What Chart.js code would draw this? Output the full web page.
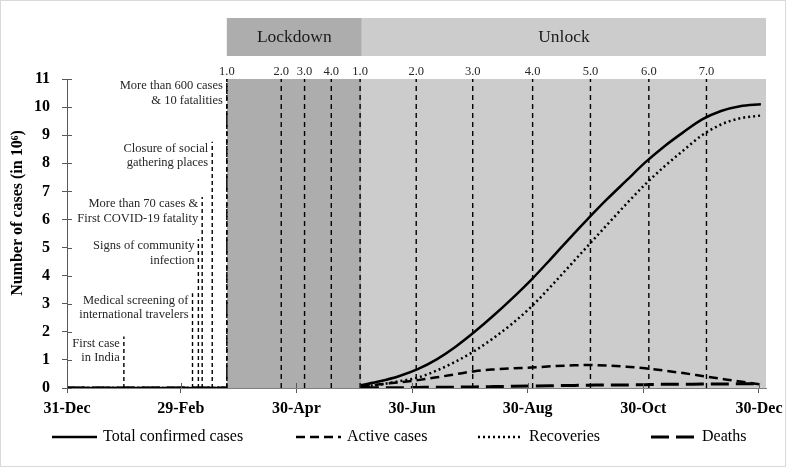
<!DOCTYPE html>
<html>
<head>
<meta charset="utf-8">
<script src="https://cdn.jsdelivr.net/npm/chart.js@4.4.1/dist/chart.umd.min.js"></script>
<style>
  body { margin: 0; background: #fff; }
  canvas { display: block; }
</style>
</head>
<body>
<canvas id="covidChart" width="786" height="467"></canvas>
<script>
// ....... data (x = days since 31-Dec, y = cases in millions) .......

const tickDays = [0, 60, 121, 182, 243, 304, 365];
const tickLabels = ["31-Dec", "29-Feb", "30-Apr", "30-Jun", "30-Aug", "30-Oct", "30-Dec"];

const days =         [0, 30, 60, 84, 120,  155,  165,  175,  185,  195,  205,  215,  225,  235,  245,  255,  265,  275,  285,  295,  305,  315,  325,  335,  345,  355,   366];
const totalCases =   [0,  0,  0,  0, null, 0.10, 0.24, 0.42, 0.67, 1.02, 1.47, 2.00, 2.58, 3.20, 3.86, 4.58, 5.32, 6.04, 6.73, 7.38, 8.03, 8.60, 9.10, 9.56, 9.86, 10.03, 10.10];
const activeCases =  [0,  0,  0,  0, null, 0.05, 0.13, 0.20, 0.28, 0.38, 0.49, 0.60, 0.66, 0.70, 0.73, 0.77, 0.80, 0.82, 0.80, 0.76, 0.70, 0.62, 0.53, 0.43, 0.33, 0.23,  0.13];
const recoveries =   [0,  0,  0,  0, null, 0.04, 0.12, 0.24, 0.37, 0.62, 0.94, 1.32, 1.78, 2.30, 2.90, 3.60, 4.34, 5.08, 5.82, 6.55, 7.25, 7.88, 8.45, 9.00, 9.38, 9.60,  9.70];
const deaths =       [0,  0,  0,  0, null, 0.01, 0.01, 0.01, 0.02, 0.03, 0.03, 0.04, 0.05, 0.06, 0.07, 0.08, 0.09, 0.10, 0.11, 0.11, 0.12, 0.13, 0.13, 0.14, 0.14, 0.15,  0.15];

// lockdown / unlock phases
const phaseNames = ["Lockdown", "Unlock"];
const phaseBounds = [84.3, 155.5, 368.7];
const lockdownDays = [84.3, 113, 125.3, 139.4];
const lockdownLabels = ["1.0", "2.0", "3.0", "4.0"];
const unlockDays = [154.6, 184.2, 214, 245.6, 276.1, 306.9, 337.3];
const unlockLabels = ["1.0", "2.0", "3.0", "4.0", "5.0", "6.0", "7.0"];

// early events
const eventDays = [30, 66.2, 69.3, 71.3, 76.6, 84.3];
const eventTops = [1.83, 3.37, 5.3, 6.8, 8.77, 11];
const eventLabels = [
  ["First case", "in India"],
  ["Medical screening of", "international travelers"],
  ["Signs of community", "infection"],
  ["More than 70 cases &", "First COVID-19 fatality"],
  ["Closure of social", "gathering places"],
  ["More than 600 cases", "& 10 fatalities"]
];

const seriesNames = ["Total confirmed cases", "Active cases", "Recoveries", "Deaths"];

// ....... helpers .......

const serif = "'Liberation Serif', 'Times New Roman', serif";

function toPoints(values) {
  return days.map((d, i) => ({ x: d, y: values[i] }));
}

// vertical segments from 0 up to a top value, separated by gaps
function verticalSegments(xs, tops) {
  const pts = [];
  xs.forEach((x, i) => {
    pts.push({ x: x, y: 0 });
    pts.push({ x: x, y: tops[i] });
    pts.push({ x: x, y: null });
  });
  return pts;
}

const phaseLineDays = lockdownDays.concat(unlockDays);
const seriesStyles = [
  { data: totalCases, dash: [], width: 2.5 },
  { data: activeCases, dash: [9, 5], width: 2.5 },
  { data: recoveries, dash: [2, 3], width: 2.5 },
  { data: deaths, dash: [18, 7], width: 3 }
];

const seriesDatasets = seriesStyles.map((s, i) => ({
  label: seriesNames[i],
  data: toPoints(s.data),
  borderColor: "#000",
  borderWidth: s.width,
  borderDash: s.dash,
  cubicInterpolationMode: "monotone",
  spanGaps: false,
  fill: false,
  order: 0
}));

// ....... extra drawing: banner, phase labels, notes, legend .......

const decorPlugin = {
  id: "decor",
  beforeDraw(chart) {
    const ctx = chart.ctx;
    ctx.save();
    ctx.fillStyle = "#fff";
    ctx.fillRect(0, 0, chart.width, chart.height);
    ctx.restore();
  },
  afterDraw(chart) {
    const ctx = chart.ctx;
    const xs = chart.scales.x;
    const ys = chart.scales.y;
    const area = chart.chartArea;
    ctx.save();

    // banner above plot
    const bannerColors = ["#adadad", "#cccccc"];
    for (let i = 0; i < phaseNames.length; i++) {
      const x0 = xs.getPixelForValue(phaseBounds[i]);
      const x1 = xs.getPixelForValue(phaseBounds[i + 1]);
      ctx.fillStyle = bannerColors[i];
      ctx.fillRect(x0, 18, x1 - x0, 38);
      ctx.fillStyle = "#1a1a1a";
      ctx.font = "17.5px " + serif;
      ctx.textAlign = "center";
      ctx.textBaseline = "middle";
      ctx.fillText(phaseNames[i], (x0 + x1) / 2, 37);
    }

    // phase numbers
    ctx.font = "12.5px " + serif;
    ctx.fillStyle = "#262626";
    ctx.textAlign = "center";
    ctx.textBaseline = "middle";
    lockdownDays.forEach((d, i) => ctx.fillText(lockdownLabels[i], xs.getPixelForValue(d), 72));
    unlockDays.forEach((d, i) => ctx.fillText(unlockLabels[i], xs.getPixelForValue(d), 72));

    // event notes
    ctx.textAlign = "right";
    eventDays.forEach((d, i) => {
      const px = xs.getPixelForValue(d) - 4;
      const py = ys.getPixelForValue(eventTops[i]) + 7;
      eventLabels[i].forEach((line, j) => ctx.fillText(line, px, py + j * 14.5));
    });

    // inner tick marks
    ctx.strokeStyle = "#595959";
    ctx.lineWidth = 1;
    ctx.beginPath();
    ys.ticks.forEach(t => {
      const py = Math.round(ys.getPixelForValue(t.value)) + 0.5;
      ctx.moveTo(area.left, py);
      ctx.lineTo(area.left + 5, py);
    });
    xs.ticks.forEach(t => {
      const px = Math.round(xs.getPixelForValue(t.value)) + 0.5;
      ctx.moveTo(px, area.bottom);
      ctx.lineTo(px, area.bottom - 5);
    });
    ctx.stroke();

    // y axis title
    ctx.save();
    ctx.translate(18, 213);
    ctx.rotate(-Math.PI / 2);
    ctx.font = "bold 16px " + serif;
    ctx.fillStyle = "#000";
    ctx.textAlign = "center";
    ctx.textBaseline = "middle";
    ctx.fillText("Number of cases (in 10\u2076)", 0, 0);
    ctx.restore();

    // legend
    const legendX = [52, 296, 478, 651];
    const legendY = 437;
    ctx.font = "16px " + serif;
    ctx.textAlign = "left";
    ctx.textBaseline = "middle";
    seriesStyles.forEach((s, i) => {
      ctx.strokeStyle = "#000";
      ctx.lineWidth = s.width;
      ctx.setLineDash(s.dash);
      ctx.beginPath();
      ctx.moveTo(legendX[i], legendY);
      ctx.lineTo(legendX[i] + 45, legendY);
      ctx.stroke();
      ctx.setLineDash([]);
      ctx.fillStyle = "#000";
      ctx.fillText(seriesNames[i], legendX[i] + 51, legendY);
    });

    // frame
    ctx.strokeStyle = "#d9d9d9";
    ctx.lineWidth = 1;
    ctx.strokeRect(0.5, 0.5, chart.width - 1, chart.height - 1);
    ctx.restore();
  }
};

// ....... chart .......

new Chart(document.getElementById("covidChart"), {
  type: "line",
  data: {
    datasets: [
      {
        label: "lockdown shade",
        data: [{ x: phaseBounds[0], y: 11 }, { x: phaseBounds[1], y: 11 }],
        borderWidth: 0,
        backgroundColor: "#adadad",
        fill: "origin",
        order: 10
      },
      {
        label: "unlock shade",
        data: [{ x: phaseBounds[1], y: 11 }, { x: phaseBounds[2], y: 11 }],
        borderWidth: 0,
        backgroundColor: "#cccccc",
        fill: "origin",
        order: 10
      },
      {
        label: "phase lines",
        data: verticalSegments(phaseLineDays, phaseLineDays.map(() => 11)),
        borderColor: "#000",
        borderWidth: 1.4,
        borderDash: [5, 4],
        spanGaps: false,
        order: 5
      },
      {
        label: "event lines",
        data: verticalSegments(eventDays, eventTops),
        borderColor: "#000",
        borderWidth: 1.4,
        borderDash: [4, 3],
        spanGaps: false,
        order: 5
      }
    ].concat(seriesDatasets)
  },
  options: {
    responsive: false,
    animation: false,
    layout: { padding: { top: 79, right: 20, left: 0, bottom: 0 } },
    elements: { point: { radius: 0 } },
    plugins: { legend: { display: false }, tooltip: { enabled: false } },
    scales: {
      x: {
        type: "linear",
        min: 0,
        max: phaseBounds[2],
        z: 1,
        afterBuildTicks: scale => { scale.ticks = tickDays.map(v => ({ value: v })); },
        afterFit: scale => {
          scale.height = 79;
          scale.paddingLeft = 0;
          scale.paddingRight = 0;
        },
        ticks: {
          autoSkip: false,
          maxRotation: 0,
          padding: 6,
          color: "#000",
          font: { family: serif, size: 16, weight: "bold" },
          callback: v => tickLabels[tickDays.indexOf(v)]
        },
        grid: { drawOnChartArea: false, tickLength: 5, color: "#595959" },
        border: { color: "#7f7f7f" }
      },
      y: {
        min: 0,
        max: 11,
        z: 1,
        afterFit: scale => { scale.width = 67; },
        ticks: {
          stepSize: 1,
          padding: 12,
          color: "#000",
          font: { family: serif, size: 16, weight: "bold" }
        },
        grid: { drawOnChartArea: false, tickLength: 5, color: "#595959" },
        border: { color: "#595959" }
      }
    }
  },
  plugins: [decorPlugin]
});
</script>
</body>
</html>
